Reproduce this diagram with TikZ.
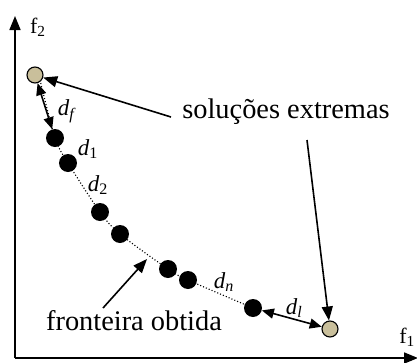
\documentclass[tikz,border=0pt]{standalone}
\usepackage{fontspec}
\setmainfont{Liberation Serif}
\usetikzlibrary{arrows.meta}
\definecolor{tanfill}{HTML}{C9BF9B}
\tikzset{
  ax/.style={line width=1.7bp,-{Triangle[length=14bp,width=11bp]}},
  arr/.style={line width=1.6bp,-{Triangle[length=14bp,width=11bp]}},
  arrtwo/.style={line width=1.6bp,{Triangle[length=12bp,width=10bp]}-{Triangle[length=12bp,width=10bp]}},
  tanpt/.style={circle,draw=black,line width=1.1bp,fill=tanfill,minimum size=16bp,inner sep=0pt},
  pt/.style={circle,fill=black,minimum size=18bp,inner sep=0pt},
  lbl/.style={font=\fontsize{28.5}{32}\selectfont,inner sep=0pt},
  dl/.style={font=\fontsize{23}{26}\selectfont,inner sep=0pt},
  axl/.style={font=\fontsize{22}{25}\selectfont,inner sep=0pt}
}
\newcommand{\dlab}[1]{\textit{d}\textsubscript{#1}}
\begin{document}
\begin{tikzpicture}[x=1bp,y=-1bp]
\useasboundingbox (0,0) rectangle (417,363);
% axes
\coordinate (o) at (15,358);
\coordinate (ytop) at (15,16);
\coordinate (xend) at (418,358);
\draw[ax] (o) -- (ytop);
\draw[ax] (o) -- (xend);
\node[axl,anchor=base west] (f2) at (30,33) {f\textsubscript{2}};
\node[axl,anchor=base east] (f1) at (415,343) {f\textsubscript{1}};
% dotted front
\draw[line width=1.1bp,dotted] plot[smooth,tension=0.5] coordinates {(40,80) (55,138) (68,163) (100,212) (120,234) (168,269) (188,280) (253,308)};
% points
\node[tanpt] (e1) at (35,75) {};
\node[tanpt] (e2) at (330,329) {};
\node[pt] (p1) at (55,138) {};
\node[pt] (p2) at (68,163) {};
\node[pt] (p3) at (100,212) {};
\node[pt] (p4) at (120,234) {};
\node[pt] (p5) at (168,269) {};
\node[pt] (p6) at (188,280) {};
\node[pt] (p7) at (253,308) {};
% distances
\draw[arrtwo] (e1) -- (p1);
\draw[arrtwo] (p7) -- (e2);
\node[dl] (df) at (67,111) {\dlab{\textit{f}}};
\node[dl] (d1) at (88,149) {\dlab{1}};
\node[dl] (d2) at (98,185) {\dlab{2}};
\node[dl] (dn) at (224,282) {\dlab{\textit{n}}};
\node[dl] (dlb) at (294,308) {\dlab{\textit{l}}};
% labels
\node[lbl,anchor=base] (sol) at (286,118) {soluções extremas};
\node[lbl,anchor=base] (fro) at (134,330) {fronteira obtida};
\coordinate (s1) at (171,117);
\coordinate (s2) at (307,140);
\draw[arr] (s1) -- (e1);
\draw[arr] (s2) -- (e2);
\coordinate (fa) at (103,308);
\coordinate (fb) at (147,259);
\draw[arr] (fa) -- (fb);
\end{tikzpicture}
\end{document}
